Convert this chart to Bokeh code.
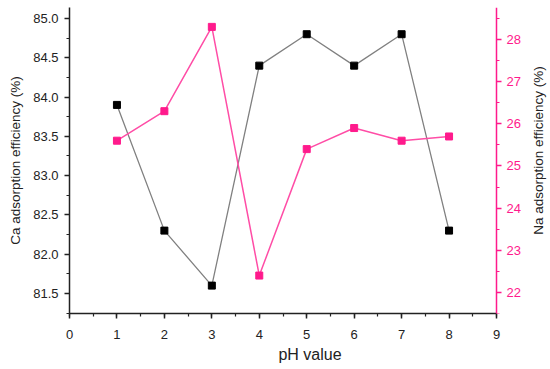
import math
from bokeh.plotting import figure
from bokeh.models import Range1d, LinearAxis, SingleIntervalTicker, PrintfTickFormatter, Label
from bokeh.embed import file_html
from bokeh.resources import INLINE

ph = [1, 2, 3, 4, 5, 6, 7, 8]
ca_eff = [83.9, 82.3, 81.6, 84.4, 84.8, 84.4, 84.8, 82.3]
na_eff = [25.6, 26.3, 28.3, 22.4, 25.4, 25.9, 25.6, 25.7]
x_ticks_end = 9

PINK = "#ff1a8c"
FONT = "Liberation Sans"

# the frame extends to the right edge so that the right-axis title (a Label) is not clipped;
# the pink axis is pinned at pH 9 and the x axis is bounded to 0..9
p = figure(width=550, height=369, output_backend="svg", toolbar_location=None,
           x_range=Range1d(0, 10.138), y_range=Range1d(81.245, 85.14),
           min_border_left=69, min_border_right=0, min_border_top=7, min_border_bottom=56)
p.outline_line_color = None
p.grid.visible = False
p.extra_y_ranges = {"na": Range1d(21.5, 28.76)}

p.xaxis.ticker = SingleIntervalTicker(interval=1, num_minor_ticks=2)
p.xaxis.bounds = (0, x_ticks_end)
p.yaxis.ticker = SingleIntervalTicker(interval=0.5, num_minor_ticks=2)
p.yaxis.formatter = PrintfTickFormatter(format="%.1f")
p.xaxis.axis_label = "pH value"
p.yaxis.axis_label = "Ca adsorption efficiency (%)"
for ax in (p.xaxis[0], p.yaxis[0]):
    ax.axis_line_width = 1.5
    ax.axis_line_color = "#222222"
    ax.major_tick_line_color = "#222222"
    ax.minor_tick_line_color = "#222222"
    ax.major_tick_line_width = 1.5
    ax.minor_tick_line_width = 1.2
    ax.major_tick_in = 0
    ax.major_tick_out = 5
    ax.minor_tick_in = 0
    ax.minor_tick_out = 3
    ax.major_label_text_font = FONT
    ax.major_label_text_font_size = "13px"
    ax.major_label_text_color = "#222222"
    ax.axis_label_text_font = FONT
    ax.axis_label_text_font_style = "normal"
    ax.axis_label_text_color = "#222222"
p.xaxis.axis_label_text_font_size = "16px"
p.yaxis.axis_label_text_font_size = "13.5px"
p.xaxis.major_label_standoff = 11
p.xaxis.axis_label_standoff = 4
p.yaxis.major_label_standoff = 6
p.yaxis.axis_label_standoff = 7

ra = LinearAxis(y_range_name="na", fixed_location=x_ticks_end,
                ticker=SingleIntervalTicker(interval=1, num_minor_ticks=2),
                formatter=PrintfTickFormatter(format="%d"))
ra.axis_line_color = PINK
ra.axis_line_width = 1.5
ra.major_tick_line_color = PINK
ra.minor_tick_line_color = PINK
ra.major_tick_line_width = 1.5
ra.minor_tick_line_width = 1.2
ra.major_tick_in = 0
ra.major_tick_out = 5
ra.minor_tick_in = 0
ra.minor_tick_out = 3
ra.major_label_text_color = PINK
ra.major_label_text_font = FONT
ra.major_label_text_font_size = "13px"
ra.major_label_standoff = 5
p.add_layout(ra, "right")

# right axis title, reading bottom-to-top as in the reference
p.add_layout(Label(x=469, y=163, x_units="screen", y_units="screen",
                   text="Na adsorption efficiency (%)", angle=math.pi / 2,
                   text_align="center", text_baseline="middle",
                   text_font=FONT, text_font_size="13.5px", text_color="#222222"))

# Ca series
p.line(ph, ca_eff, line_color="#808080", line_width=1.3)
p.scatter(ph, ca_eff, marker="square", size=7, fill_color="#000000", line_color="#000000")

# Na series
p.line(ph, na_eff, line_color="#ff4da6", line_width=1.5, y_range_name="na")
p.scatter(ph, na_eff, marker="square", size=7, fill_color=PINK, line_color=PINK, y_range_name="na")

open("out.html", "w").write(file_html(p, INLINE))
